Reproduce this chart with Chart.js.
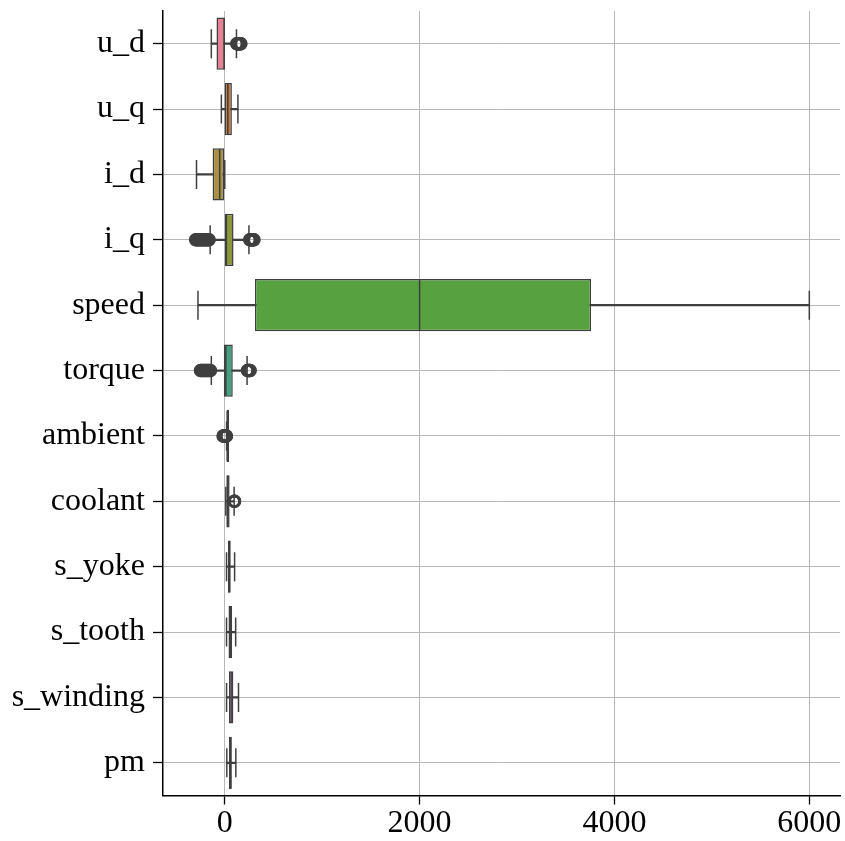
<!DOCTYPE html>
<html>
<head>
<meta charset="utf-8">
<script src="https://cdn.jsdelivr.net/npm/chart.js@4.4.1/dist/chart.umd.min.js"></script>
<style>
  html, body { margin: 0; padding: 0; background: #fff; }
  canvas { display: block; }
</style>
</head>
<body>
<canvas id="box" width="845" height="841"></canvas>
<script>
// columns of the motor dataset, top to bottom
var labels = ['u_d', 'u_q', 'i_d', 'i_q', 'speed', 'torque', 'ambient', 'coolant', 's_yoke', 's_tooth', 's_winding', 'pm'];

// five-number summaries
var whiskLo = [-138, -35, -290, -150, -275, -138, 18.6, 10.6, 18, 18, 18.6, 20.9];
var q1      = [-85, -2, -125, 1, 310, -10, 23.2, 18.7, 32, 38.4, 42.8, 43.2];
var median  = [-7, 31, -52, 16, 2000, 11, 24.8, 26.9, 45.6, 56, 65.1, 60.3];
var q3      = [1.5, 73, -8, 90, 3760, 82, 26.2, 49.9, 61.5, 75.6, 88.1, 72];
var whiskHi = [120, 135, 0, 248, 6000, 229, 30.7, 96, 101, 112, 141, 113.6];

// fliers per column
var outliers = [
  [122, 127, 132, 137, 142, 147, 152, 157, 162, 166],
  [],
  [],
  [-300, -290, -280, -270, -260, -250, -240, -230, -220, -210, -200, -190, -180, -170, -160, 255, 261, 267, 273, 279, 285, 291, 297, 300],
  [],
  [-250, -242, -234, -226, -218, -210, -202, -194, -186, -178, -170, -162, -154, -146, 232, 237, 242, 247, 252, 257, 261],
  [-18, -13, -8, -3, 2, 6, 9, 12, 15, 17],
  [97, 99, 101],
  [],
  [],
  [],
  []
];

var xTicks = [0, 2000, 4000, 6000];

var colors = ['#e68294', '#c07840', '#aa9043', '#8c963f', '#58a141', '#43a080',
              '#459e97', '#499eae', '#519fd6', '#ab99e7', '#d978e2', '#e47abd'];

var lineCol = '#3f3f3f';
var gridCol = '#b8b8b8';

var whiskerData = labels.map(function (l, i) { return [whiskLo[i], whiskHi[i]]; });
var boxData = labels.map(function (l, i) { return [q1[i], q3[i]]; });
var medianData = labels.map(function (l, i) { return {x: median[i], y: l}; });
var capData = [];
labels.forEach(function (l, i) {
  capData.push({x: whiskLo[i], y: l});
  capData.push({x: whiskHi[i], y: l});
});
var flierData = [];
outliers.forEach(function (arr, i) {
  arr.forEach(function (v) { flierData.push({x: v, y: labels[i]}); });
});

var noPad = function (s) {
  s.paddingLeft = 0; s.paddingRight = 0; s.paddingTop = 0; s.paddingBottom = 0;
};

var ctx = document.getElementById('box');
new Chart(ctx, {
  type: 'bar',
  data: {
    labels: labels,
    datasets: [{
      label: 'whisker',
      data: whiskerData,
      backgroundColor: lineCol,
      barThickness: 1.5,
      grouped: false,
      order: 4
    }, {
      label: 'box',
      data: boxData,
      backgroundColor: colors,
      borderColor: lineCol,
      borderWidth: 1.5,
      borderSkipped: false,
      barPercentage: 0.8,
      categoryPercentage: 1,
      minBarLength: 2,
      grouped: false,
      order: 3
    }, {
      type: 'scatter',
      label: 'median',
      data: medianData,
      pointStyle: 'line',
      rotation: 90,
      pointRadius: 25.5,
      borderColor: lineCol,
      borderWidth: 1.5,
      order: 2
    }, {
      type: 'scatter',
      label: 'caps',
      data: capData,
      pointStyle: 'line',
      rotation: 90,
      pointRadius: 14.5,
      borderColor: lineCol,
      borderWidth: 1.5,
      order: 1
    }, {
      type: 'scatter',
      label: 'fliers',
      data: flierData,
      pointStyle: 'circle',
      pointRadius: 5.3,
      backgroundColor: 'rgba(0,0,0,0)',
      borderColor: lineCol,
      borderWidth: 2.8,
      order: 0
    }]
  },
  options: {
    indexAxis: 'y',
    responsive: false,
    animation: false,
    events: [],
    devicePixelRatio: 1,
    layout: { autoPadding: false, padding: { top: 11, right: 5, left: 0, bottom: 0 } },
    plugins: { legend: { display: false }, tooltip: { enabled: false } },
    scales: {
      x: {
        type: 'linear',
        min: -634,
        max: 6315,
        afterBuildTicks: function (s) {
          s.ticks = xTicks.map(function (v) { return {value: v}; });
        },
        afterFit: function (s) { s.height = 45.5; noPad(s); },
        grid: { color: gridCol, lineWidth: 1, tickColor: '#000', tickWidth: 1.3, tickLength: 9 },
        border: { display: true, color: '#000', width: 1.5 },
        ticks: {
          color: '#000',
          padding: 0,
          maxRotation: 0,
          callback: function (v) { return String(v); },
          font: { family: 'Liberation Serif', size: 32 }
        }
      },
      y: {
        type: 'category',
        offset: true,
        afterFit: function (s) { s.width = 163; noPad(s); },
        grid: { offset: false, color: gridCol, lineWidth: 1, tickColor: '#000', tickWidth: 1.3, tickLength: 10 },
        border: { display: true, color: '#000', width: 1.5 },
        ticks: {
          color: '#000',
          padding: 8,
          font: { family: 'Liberation Serif', size: 32 }
        }
      }
    }
  }
});
</script>
</body>
</html>
